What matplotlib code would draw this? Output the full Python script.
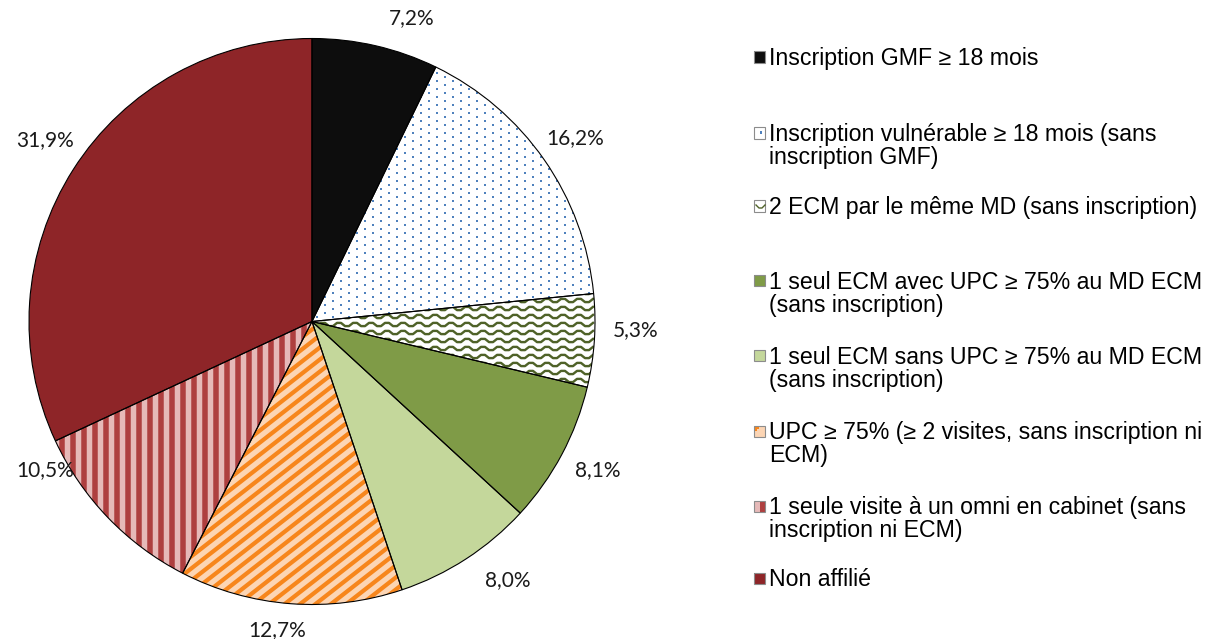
import numpy as np
import matplotlib
matplotlib.use("Agg")
import matplotlib.pyplot as plt
from matplotlib.patches import Rectangle, Wedge

# -- donnees --
categories = [
    "Inscription GMF ≥ 18 mois",
    "Inscription vulnérable ≥ 18 mois (sans\ninscription GMF)",
    "2 ECM par le même MD (sans inscription)",
    "1 seul ECM avec UPC ≥ 75% au MD ECM\n(sans inscription)",
    "1 seul ECM sans UPC ≥ 75% au MD ECM\n(sans inscription)",
    "UPC ≥ 75% (≥ 2 visites, sans inscription ni\nECM)",
    "1 seule visite à un omni en cabinet (sans\ninscription ni ECM)",
    "Non affilié",
]
values = [7.2, 16.2, 5.3, 8.1, 8.0, 12.7, 10.5, 31.9]
pct_labels = ["7,2%", "16,2%", "5,3%", "8,1%", "8,0%", "12,7%", "10,5%", "31,9%"]

face = ["#0d0d0d", "white", "white", "#7f9b47", "#c4d79b", "#fcd5b4", "#e6b9b8", "#8e2528"]

# mise en page (pixels, depuis le coin haut-gauche)
W, H = 1212, 639
R = 283.0
cx, cy = 312, H - 321.5
L = 1.12
PX = 1.0 / R       # 1 pixel en unites de donnees
PT = 0.72          # 1 pixel en points (dpi 100)
label_px = [(412, 18), (575, 138), (636, 330), (598, 470), (508, 580), (277, 630), (45, 470), (45, 140)]
legend_px = [57, 133, 206, 281, 356, 431, 506, 578]

fig = plt.figure(figsize=(W / 100, H / 100), dpi=100)
ax = fig.add_axes([(cx - L * R) / W, (cy - L * R) / H, 2 * L * R / W, 2 * L * R / H])

wedges, _ = ax.pie(values, colors=face, startangle=90, counterclock=False,
                   wedgeprops=dict(edgecolor="none", linewidth=0))
ax.set_xlim(-L, L)
ax.set_ylim(-L, L)
ax.set_aspect("equal")
ax.axis("off")

# etiquettes des pourcentages (placement comme Excel)
for lab, (px, py) in zip(pct_labels, label_px):
    fig.text(px / W, 1 - py / H, lab, fontsize=15, family="Lato", color="#1a1a1a",
             ha="center", va="center")

# -- motifs decoupes sur chaque secteur --
def clip_all(artists, wedge):
    for a in artists:
        a.set_clip_path(wedge)

# points bleus
w = wedges[1]
xs, ys = [], []
for k, y in enumerate(np.arange(-1, 1, 4 * PX)):
    off = 0 if k % 2 == 0 else 8 * PX
    for x in np.arange(-1 + off, 1, 16 * PX):
        xs.append(x); ys.append(y)
sc = ax.scatter(xs, ys, s=(2.6 * PT) ** 2, marker="s", color="#4f81bd", linewidths=0, zorder=3)
sc.set_clip_path(w)

# vagues vert olive
w = wedges[2]
xw = np.arange(-1, 1, 4 * PX)
zig = np.array([-1, 1, 1, -1] * (len(xw) // 4 + 1))[:len(xw)] * 1.6 * PX
lines = []
for y in np.arange(-1, 1, 8 * PX):
    ln, = ax.plot(xw, y + zig, color="#4f6228", lw=2.4 * PT, zorder=3)
    lines.append(ln)
clip_all(lines, w)

# rayures diagonales orange
w = wedges[5]
ang = np.deg2rad(38)
d = np.array([np.cos(ang), np.sin(ang)])
n = np.array([-np.sin(ang), np.cos(ang)])
lines = []
for s in np.arange(-1.6, 1.6, 9.5 * PX):
    p0 = n * s - d * 1.6
    p1 = n * s + d * 1.6
    ln, = ax.plot([p0[0], p1[0]], [p0[1], p1[1]], color="#f7861c", lw=4.2 * PT,
                  solid_capstyle="butt", zorder=3)
    lines.append(ln)
clip_all(lines, w)

# rayures verticales rouges
w = wedges[6]
lines = []
for x in np.arange(-1, 1, 11 * PX):
    ln, = ax.plot([x, x], [-1, 1], color="#ae3f3f", lw=5.5 * PT, solid_capstyle="butt", zorder=3)
    lines.append(ln)
clip_all(lines, w)

# contours des secteurs par-dessus les motifs
for w in wedges:
    ax.add_patch(Wedge(w.center, w.r, w.theta1, w.theta2, fill=False,
                       edgecolor="black", linewidth=0.8, zorder=4))

# -- legende --
def fig_rect(x, y, w, h, **kw):
    # rectangle en pixels (haut-gauche)
    fig.patches.append(Rectangle((x / W, 1 - (y + h) / H), w / W, h / H,
                                 transform=fig.transFigure, **kw))

for i, lab in enumerate(categories):
    yp = legend_px[i]
    fig_rect(754, yp - 5.5, 11, 11, facecolor=face[i], edgecolor="none")
    if i == 1:
        fig_rect(760, yp - 1.5, 2, 2, facecolor="#4f81bd", edgecolor="none")
    if i == 2:
        fig.lines.append(plt.Line2D([756 / W, 759 / W, 762 / W, 765 / W],
                                    [1 - (yp - 1) / H, 1 - (yp + 2) / H, 1 - (yp + 2) / H, 1 - (yp - 1) / H],
                                    transform=fig.transFigure, color="#4f6228", lw=1))
    if i == 5:
        fig_rect(755, yp - 4.5, 4, 2, facecolor="#f7861c", edgecolor="none")
        fig_rect(755, yp - 4.5, 2, 4, facecolor="#f7861c", edgecolor="none")
    if i == 6:
        fig_rect(760, yp - 5.5, 5, 11, facecolor="#ae3f3f", edgecolor="none")
    fig_rect(754, yp - 5.5, 11, 11, fill=False, edgecolor="#8c8c8c", linewidth=0.8)
    fig.text(769 / W, 1 - (yp - 10) / H, lab, fontsize=16.7, family="Liberation Sans", va="top",
             ha="left", linespacing=1.0, color="black")

fig.savefig("out.png", dpi=100)
